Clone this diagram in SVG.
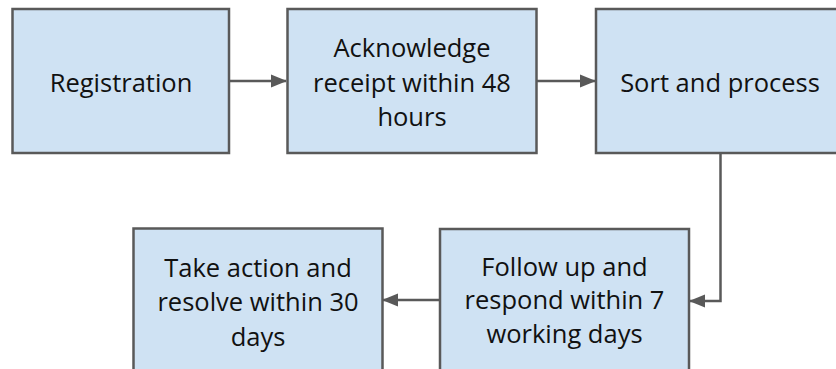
<svg xmlns="http://www.w3.org/2000/svg" width="836" height="369" viewBox="0 0 836 369">
<style>
.box{fill:#cfe2f3;stroke:#595959;stroke-width:2.5}
.t{font-family:"Open Sans","Liberation Sans",sans-serif;font-size:25.5px;fill:#111;text-anchor:middle}
.c{fill:none;stroke:#595959;stroke-width:2.5}
</style>
<defs>
<marker id="ah" markerWidth="16" markerHeight="14" refX="15" refY="7" orient="auto" markerUnits="userSpaceOnUse" viewBox="0 0 16 14">
<path d="M0,0.5 L16,7 L0,13.5 Z" fill="#595959"/>
</marker>
</defs>
<g id="connectors">
<path class="c" d="M229,81 H286" marker-end="url(#ah)"/>
<path class="c" d="M537,81 H595" marker-end="url(#ah)"/>
<path class="c" d="M720.5,153 V301 H690" marker-end="url(#ah)"/>
<path class="c" d="M440,300 H383" marker-end="url(#ah)"/>
</g>
<g id="registration">
<rect class="box" x="12.5" y="9" width="216.5" height="144"/>
<text class="t" x="121" y="92">Registration</text>
</g>
<g id="acknowledge">
<rect class="box" x="287.5" y="9" width="249" height="144"/>
<text class="t" x="412" y="57">Acknowledge</text>
<text class="t" x="412" y="92">receipt within 48</text>
<text class="t" x="412" y="126">hours</text>
</g>
<g id="sort">
<rect class="box" x="596" y="9" width="250" height="144"/>
<text class="t" x="720" y="92">Sort and process</text>
</g>
<g id="followup">
<rect class="box" x="440" y="229" width="249" height="150"/>
<text class="t" x="564.5" y="276">Follow up and</text>
<text class="t" x="564.5" y="309">respond within 7</text>
<text class="t" x="564.5" y="343">working days</text>
</g>
<g id="takeaction">
<rect class="box" x="133.5" y="228.5" width="249" height="150"/>
<text class="t" x="258" y="277">Take action and</text>
<text class="t" x="258" y="311">resolve within 30</text>
<text class="t" x="258" y="346">days</text>
</g>
</svg>
